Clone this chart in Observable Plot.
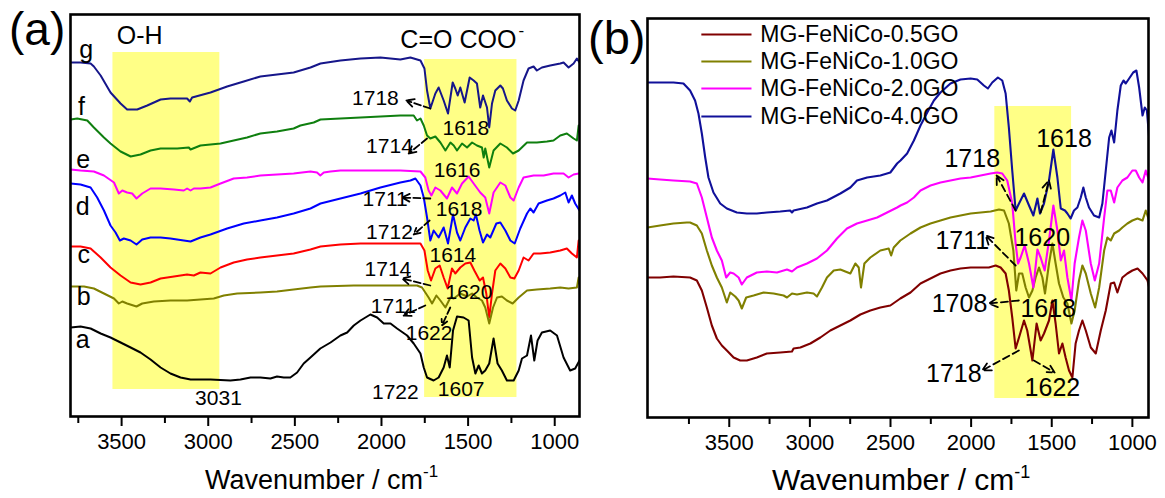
<!DOCTYPE html>
<html>
<head>
<meta charset="utf-8">
<script src="https://cdn.jsdelivr.net/npm/d3@7"></script>
<script src="https://cdn.jsdelivr.net/npm/@observablehq/plot@0.6"></script>
<style>
  html, body { margin: 0; padding: 0; background: #fff; }
  #wrap { position: relative; width: 1165px; height: 498px; background: #fff; overflow: hidden;
          font-family: "Liberation Sans", Arial, sans-serif; }
  #pa, #pb { position: absolute; top: 0; }
  #pa { left: 0; }
  #pb { left: 582px; }
  #ov { position: absolute; left: 0; top: 0; pointer-events: none; }
</style>
</head>
<body>
<div id="wrap">
  <div id="pa"></div>
  <div id="pb"></div>
  <svg id="ov" width="1165" height="498" font-family="Liberation Sans, Arial, sans-serif">
    <text x="9" y="45" font-size="46">(a)</text>
    <text x="588" y="54" font-size="47">(b)</text>
    <text x="205" y="489" font-size="27">Wavenumber / cm<tspan font-size="17" dy="-12">-1</tspan></text>
    <text x="772" y="490" font-size="30">Wavenumber / cm<tspan font-size="18" dy="-12">-1</tspan></text>
  </svg>
</div>
<script>
// ---------- Panel (a): FTIR spectra a–g (wavenumber, cm-1 / transmittance, arb. units) ----------
const wnG = [3794,3737,3679,3660,3621,3564,3506,3468,3410,3352,3275,3218,3122,3106,3093,2987,2891,2795,2699,2603,2507,2410,2352,2237,2121,2006,1891,1833,1775,1752,1737,1718,1689,1670,1641,1616,1589,1574,1560,1545,1520,1491,1468,1449,1430,1414,1391,1378,1362,1343,1314,1299,1276,1247,1228,1208,1180,1151,1122,1103,1074,1026,968,949,920,891,872,857];
const tG = [354,354,353,350,341,324,313,307,307,311,317,318,318,315,319,324,330,335,340,342,344,349,353,356,358,359,357,359,356,348,326,308,323,329,316,303,334,328,321,329,314,339,336,333,309,321,309,289,313,326,331,328,316,308,306,316,336,348,350,346,349,351,353,354,349,353,358,354];

const wnF = [3794,3756,3698,3660,3602,3564,3506,3448,3391,3333,3275,3179,3112,3102,3045,2929,2853,2776,2699,2603,2507,2468,2391,2352,2237,2121,2006,1891,1814,1795,1775,1756,1737,1718,1689,1660,1631,1602,1583,1564,1535,1506,1477,1449,1420,1410,1401,1378,1353,1314,1276,1241,1208,1160,1103,1045,1007,968,930,891,872,862,857];
const tF = [297,298,296,289,279,273,265,260,262,266,268,268,269,267,271,273,276,279,283,285,288,291,294,297,298,299,300,301,301,296,298,291,281,278,280,274,266,274,271,266,273,269,274,271,269,259,268,249,266,273,269,263,266,274,274,275,276,281,283,278,276,291,285];

const wnE = [3794,3737,3660,3602,3544,3516,3496,3468,3439,3414,3381,3333,3275,3198,3141,3122,3102,3083,3045,2987,2929,2853,2776,2699,2603,2507,2410,2372,2353,2333,2295,2237,2121,2006,1891,1775,1747,1728,1712,1689,1660,1622,1593,1564,1535,1497,1468,1430,1401,1378,1353,1314,1285,1256,1237,1208,1180,1122,1064,1007,949,920,891,862];
const tE = [247,246,245,241,234,223,226,224,223,218,223,228,228,227,226,228,226,228,228,229,233,238,239,241,242,243,245,244,241,244,245,246,246,246,246,245,239,226,221,229,226,218,229,223,233,240,233,224,219,203,224,234,231,219,216,229,239,241,241,243,243,239,242,243];

const wnD = [3794,3737,3679,3641,3602,3564,3535,3510,3487,3448,3414,3381,3333,3275,3218,3141,3102,3045,2987,2891,2795,2699,2603,2507,2410,2352,2237,2121,2006,1891,1833,1804,1775,1756,1737,1718,1699,1670,1641,1616,1587,1564,1545,1516,1487,1468,1455,1434,1414,1391,1372,1337,1314,1285,1256,1231,1199,1160,1141,1122,1093,1045,1007,968,939,920,901,882,857];
const tD = [233,232,229,219,206,191,184,176,178,176,172,177,179,179,178,176,175,179,182,188,193,196,199,203,208,213,218,223,229,234,236,238,231,219,199,176,186,179,189,173,202,184,176,189,198,196,202,186,174,182,179,193,194,186,176,173,188,203,208,204,213,216,218,221,224,214,221,213,206];

const wnC = [3794,3737,3679,3621,3564,3506,3448,3391,3333,3275,3198,3122,3083,3045,2987,2929,2853,2776,2699,2603,2507,2410,2352,2237,2121,2006,1891,1775,1752,1733,1714,1689,1664,1641,1618,1593,1574,1545,1516,1487,1464,1433,1414,1395,1378,1362,1343,1314,1285,1256,1233,1208,1180,1151,1122,1084,1026,968,930,901,872,862,857];
const tC = [170,170,168,159,149,141,134,132,134,138,140,142,141,144,143,149,154,157,159,161,163,167,170,172,173,173,173,173,166,146,136,148,151,139,128,148,143,149,153,154,146,136,139,123,99,123,146,153,148,139,138,146,159,156,163,163,164,166,168,163,159,176,170];

const wnB = [3794,3717,3660,3602,3544,3516,3496,3468,3414,3381,3314,3218,3122,3045,2968,2910,2833,2699,2603,2507,2410,2352,2160,1968,1795,1766,1747,1728,1708,1683,1660,1631,1602,1583,1545,1506,1477,1449,1420,1401,1378,1356,1333,1305,1276,1243,1208,1160,1103,1026,968,920,872,862,857];
const tB = [130,130,128,123,118,113,115,113,110,113,115,116,116,117,118,121,123,124,125,127,129,130,131,131,131,129,124,119,113,121,116,109,119,118,123,120,123,119,116,109,93,109,119,120,116,113,119,126,127,128,129,128,129,139,133];

const wnA = [3794,3737,3679,3621,3564,3506,3448,3391,3333,3275,3218,3160,3102,2987,2872,2814,2756,2699,2641,2603,2564,2526,2487,2449,2410,2353,2294,2237,2198,2160,2121,2064,2025,1987,1948,1910,1852,1814,1775,1756,1737,1699,1670,1641,1622,1606,1587,1564,1526,1497,1477,1458,1439,1420,1401,1378,1353,1330,1305,1276,1237,1208,1189,1160,1137,1118,1099,1074,1026,987,949,911,882,857];
const tA = [89,90,88,83,79,74,69,64,57,49,43,39,37,37,36,37,39,39,38,40,39,39,44,53,59,68,74,81,84,91,96,102,99,93,93,88,81,73,63,49,39,36,39,49,61,49,86,100,99,96,59,43,51,43,46,53,78,53,46,36,36,46,58,61,81,56,76,84,86,81,59,46,48,56];

const seriesAName = ["g","f","e","d","c","b","a"];
const seriesAColor = ["#16168a","#0f7f0f","#ff00ff","#0000ff","#ff0000","#808000","#000000"];
const seriesAX = [3705,3731,3722,3725,3719,3719,3725];
const seriesAY = [367,310,257,210,162,120,77];

const bandAX1 = [3550,1751], bandAX2 = [2933,1218], bandAY1 = [27,19], bandAY2 = [364,357];

const peakALabel = ["1718","1618","1714","1616","1711","1618","1712","1614","1714","1620","1711","1622","1722","1607","3031"];
const peakAX = [2035,1513,1954,1564,1979,1552,1954,1588,1963,1495,1931,1725,1920,1540,2941];
const peakAY = [318,288,270,246,217,207,184,161,147,124,110,83,24,27,18];

const arrowAX1 = [1718,1737,1718,1722,1718,1747,1603];
const arrowAY1 = [308,278,218,196,131,111,109];
const arrowAX2 = [1856,1843,1881,1814,1881,1872,1651];
const arrowAY2 = [316,263,219,182,138,101,91];

// ---------- Panel (b): MG-FeNiCo-xGO ----------
const wnB4 = [4007,3929,3846,3784,3743,3712,3691,3670,3649,3629,3598,3556,3515,3453,3391,3329,3267,3184,3122,3111,3101,3018,2956,2894,2811,2749,2708,2645,2563,2501,2459,2438,2397,2355,2314,2272,2231,2190,2128,2066,2003,1962,1921,1896,1869,1834,1807,1786,1766,1745,1724,1703,1672,1641,1614,1589,1573,1548,1517,1490,1465,1444,1418,1403,1383,1362,1341,1320,1304,1289,1269,1238,1206,1186,1165,1144,1130,1113,1093,1072,1055,1041,1020,995,975,958,937,923,910,896];
const tB4 = [335,335,335,334,327,317,304,284,260,240,225,214,209,205,204,204,205,206,207,205,207,210,214,217,224,230,237,240,242,245,254,257,264,277,292,305,317,325,334,338,339,338,332,329,335,340,337,324,290,247,207,214,224,212,202,219,204,214,237,268,240,209,207,204,199,207,210,220,230,220,210,202,200,214,247,280,287,275,307,332,337,334,339,345,347,330,302,310,307,280];

const wnB2 = [4007,3929,3846,3743,3701,3670,3639,3608,3577,3546,3519,3494,3473,3442,3422,3391,3329,3267,3204,3142,3111,3080,3018,2956,2894,2832,2770,2708,2645,2583,2521,2459,2438,2397,2355,2314,2252,2190,2128,2066,2003,1941,1879,1838,1807,1776,1745,1724,1709,1693,1668,1641,1614,1589,1569,1544,1517,1490,1465,1444,1424,1403,1378,1358,1331,1310,1289,1258,1233,1206,1175,1155,1134,1113,1093,1062,1031,1000,979,958,937,917,896];
const tB2 = [239,238,237,236,234,220,200,180,167,157,140,145,144,140,133,140,145,146,145,148,146,150,154,159,167,179,189,194,197,200,205,210,212,215,220,227,232,235,237,239,240,242,244,245,244,237,214,174,154,160,172,154,130,168,160,147,177,212,187,157,167,140,117,154,180,197,187,154,137,154,200,227,227,215,230,237,240,247,247,240,235,247,237];

const wnB1 = [4007,3929,3846,3763,3743,3701,3670,3639,3608,3577,3546,3515,3494,3463,3442,3422,3395,3349,3287,3225,3163,3142,3111,3080,3018,2977,2956,2925,2894,2852,2811,2749,2718,2697,2683,2662,2625,2563,2511,2496,2480,2439,2376,2314,2252,2190,2128,2066,2003,1941,1879,1827,1796,1766,1738,1720,1703,1683,1662,1641,1620,1600,1579,1558,1542,1517,1496,1476,1455,1428,1403,1378,1358,1331,1310,1289,1258,1231,1206,1175,1155,1134,1113,1082,1062,1031,1000,968,937,917,896];
const tB1 = [190,192,194,195,195,192,184,167,152,140,130,115,125,121,117,109,120,122,125,124,122,120,124,123,125,124,121,130,140,147,148,144,154,150,130,154,160,167,169,162,170,177,184,190,194,197,200,202,204,205,206,208,207,194,167,127,144,144,130,120,127,140,150,140,124,154,174,154,134,120,114,94,107,137,152,144,124,110,130,167,180,177,184,187,190,194,197,199,197,207,197];

const wnB05 = [4007,3929,3846,3743,3701,3670,3639,3608,3577,3546,3515,3473,3432,3391,3329,3267,3184,3111,3101,3059,2997,2935,2873,2811,2749,2687,2625,2563,2501,2439,2376,2314,2252,2190,2128,2066,2003,1941,1890,1848,1817,1786,1766,1745,1724,1703,1672,1652,1620,1594,1569,1548,1517,1496,1476,1455,1434,1414,1393,1372,1352,1331,1310,1289,1258,1227,1196,1165,1134,1113,1093,1062,1031,1000,968,937,906,896];
const tB05 = [140,140,141,140,137,127,110,92,79,72,67,60,57,57,60,64,65,66,69,70,74,80,87,92,97,103,107,110,112,119,125,134,139,144,147,149,150,150,150,152,150,144,127,100,69,80,97,87,57,94,77,84,97,117,94,64,74,60,47,40,74,87,97,87,70,64,87,107,134,135,125,140,144,147,149,144,137,130];

const seriesBName = ["MG-FeNiCo-0.5GO","MG-FeNiCo-1.0GO","MG-FeNiCo-2.0GO","MG-FeNiCo-4.0GO"];
const seriesBColor = ["#800000","#808000","#ff00ff","#10109a"];
const legendBY = [383,356,329,301];

const bandBX1 = [1853], bandBX2 = [1377], bandBY1 = [19], bandBY2 = [311];

const peakBLabel = ["1618","1718","1620","1711","1708","1618","1718","1622"];
const peakBX = [1424,1993,1559,2055,2072,1522,2107,1496];
const peakBY = [279,259,180,177,114,109,44,30];

const arrowBX1 = [1569,1724,1724,1704,1704,1611];
const arrowBY1 = [205,207,152,117,67,57];
const arrowBX2 = [1517,1842,1910,1890,1931,1482];
const arrowBY2 = [237,242,182,114,47,45];

const majorTicks = [3500,3000,2500,2000,1500,1000];
const minorTicks = [3750,3250,2750,2250,1750,1250];

// ---------- helpers ----------
const FONT = "Liberation Sans, Arial, sans-serif";
const pts = (wn, t, name) => wn.map((w, i) => ({wn: w, t: t[i], name}));
const zip = (keys, arrs) => arrs[0].map((_, i) => Object.fromEntries(keys.map((k, j) => [k, arrs[j][i]])));

const curvesA = [
  pts(wnG, tG, "g"), pts(wnF, tF, "f"), pts(wnE, tE, "e"), pts(wnD, tD, "d"),
  pts(wnC, tC, "c"), pts(wnB, tB, "b"), pts(wnA, tA, "a")
];
const bandsA = zip(["x1","x2","y1","y2"], [bandAX1, bandAX2, bandAY1, bandAY2]);
const lettersA = zip(["x","y","text"], [seriesAX, seriesAY, seriesAName]);
const peaksA = zip(["x","y","text"], [peakAX, peakAY, peakALabel]);
const arrowsA = zip(["x1","y1","x2","y2"], [arrowAX1, arrowAY1, arrowAX2, arrowAY2]);

function axes(fontSize) {
  return [
    Plot.axisX({ticks: minorTicks, tickSize: 7, tickFormat: () => "", strokeWidth: 2, label: null}),
    Plot.axisX({ticks: majorTicks, tickSize: 10, tickPadding: 7, tickFormat: d => String(d),
                fontSize, strokeWidth: 2, label: null, fill: "black"})
  ];
}

const plotA = Plot.plot({
  width: 582, height: 498,
  marginLeft: 70, marginRight: 3, marginTop: 14, marginBottom: 82,
  x: {domain: [3795, 857]},
  y: {domain: [0, 402], axis: null},
  style: {fontFamily: FONT, color: "black", background: "transparent", overflow: "visible"},
  marks: [
    Plot.rect(bandsA, {x1: "x1", x2: "x2", y1: "y1", y2: "y2", fill: "#ffff86"}),
    ...curvesA.map((c, i) => Plot.line(c, {x: "wn", y: "t", stroke: seriesAColor[i], strokeWidth: 2, clip: true})),
    Plot.text(lettersA, {x: "x", y: "y", text: "text", fontSize: 25, lineAnchor: "middle", fill: "black"}),
    Plot.text(["O-H"], {x: 3396, y: 381, text: d => d, fontSize: 25, lineAnchor: "middle", fill: "black"}),
    Plot.text(["C=O COO"], {x: 1891, y: 377, text: d => d, fontSize: 25, textAnchor: "start", lineAnchor: "middle", fill: "black"}),
    Plot.text(["-"], {x: 1193, y: 386, text: d => d, fontSize: 17, lineAnchor: "middle", fill: "black"}),
    Plot.text(peaksA, {x: "x", y: "y", text: "text", fontSize: 21, lineAnchor: "middle", fill: "black"}),
    Plot.arrow(arrowsA, {x1: "x1", y1: "y1", x2: "x2", y2: "y2", stroke: "black", strokeWidth: 1.8,
                         headLength: 7, headAngle: 55, strokeDasharray: "7,3"}),
    Plot.frame({stroke: "black", strokeWidth: 2.6}),
    ...axes(22)
  ]
});
document.getElementById("pa").appendChild(plotA);

// ---------- Panel (b) ----------
const curvesB = [pts(wnB05, tB05, seriesBName[0]), pts(wnB1, tB1, seriesBName[1]),
                 pts(wnB2, tB2, seriesBName[2]), pts(wnB4, tB4, seriesBName[3])];
const bandsB = zip(["x1","x2","y1","y2"], [bandBX1, bandBX2, bandBY1, bandBY2]);
const peaksB = zip(["x","y","text"], [peakBX, peakBY, peakBLabel]);
const arrowsB = zip(["x1","y1","x2","y2"], [arrowBX1, arrowBY1, arrowBX2, arrowBY2]);
const legendB = zip(["name","color","y"], [seriesBName, seriesBColor, legendBY]);

const plotB = Plot.plot({
  width: 583, height: 498,
  marginLeft: 65, marginRight: 17, marginTop: 18, marginBottom: 81,
  x: {domain: [4007, 900]},
  y: {domain: [0, 399], axis: null},
  color: {type: "identity"},
  style: {fontFamily: FONT, color: "black", background: "transparent", overflow: "visible"},
  marks: [
    Plot.rect(bandsB, {x1: "x1", x2: "x2", y1: "y1", y2: "y2", fill: "#ffff86"}),
    ...curvesB.map((c, i) => Plot.line(c, {x: "wn", y: "t", stroke: seriesBColor[i], strokeWidth: 2.1, clip: true})),
    Plot.ruleY(legendB, {y: "y", x1: 3670, x2: 3359, stroke: "color", strokeWidth: 2.2}),
    Plot.text(legendB, {x: 3307, y: "y", text: "name", fontSize: 23, textAnchor: "start", lineAnchor: "middle", fill: "black"}),
    Plot.text(peaksB, {x: "x", y: "y", text: "text", fontSize: 25, lineAnchor: "middle", fill: "black"}),
    Plot.arrow(arrowsB, {x1: "x1", y1: "y1", x2: "x2", y2: "y2", stroke: "black", strokeWidth: 1.8,
                         headLength: 8, headAngle: 55, strokeDasharray: "7,4"}),
    Plot.frame({stroke: "black", strokeWidth: 2.6}),
    ...axes(22)
  ]
});
document.getElementById("pb").appendChild(plotB);
</script>
</body>
</html>
